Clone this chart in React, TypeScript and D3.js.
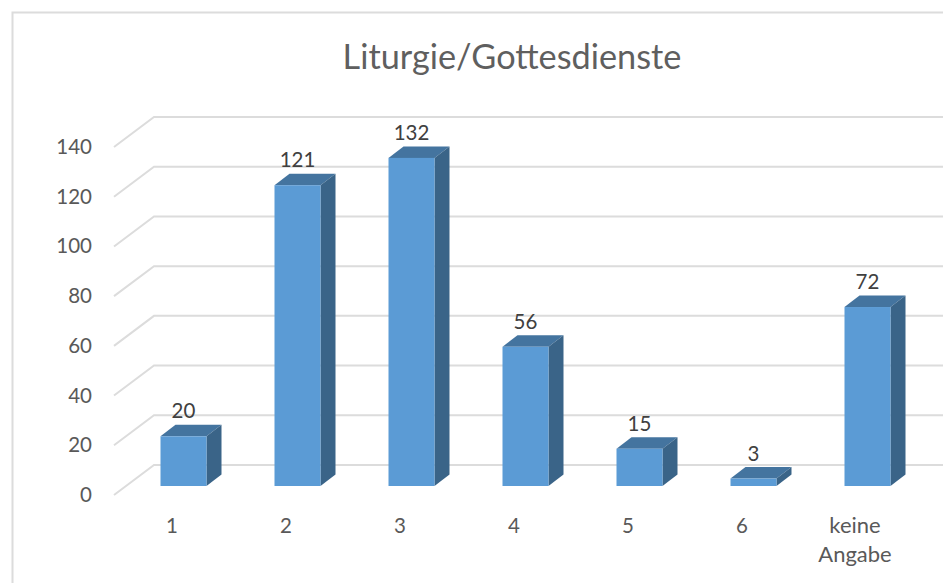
import React from "react";
import * as d3 from "d3";

const categories = ["1", "2", "3", "4", "5", "6", "keine Angabe"];
const values = [20, 121, 132, 56, 15, 3, 72];
const yTicks = [0, 20, 40, 60, 80, 100, 120, 140];
const title = "Liturgie/Gottesdienste";

const width = 943;
const height = 583;
const font = "Lato, 'Open Sans', sans-serif";
const depthX = 15;
const depthY = 11.5;
const gridColor = "#dcdcdc";

export default function App() {
  // heights measured from the floor, the bar's front face sits at y = 486
  const h = d3.scaleLinear().domain([0, 140]).range([0, 348]);
  const x = d3.scaleBand<string>()
    .domain(categories)
    .range([126.5, 924.5])
    .paddingInner(68 / 114)
    .paddingOuter(34 / 114);
  const line = d3.line();
  const floorFront = 495;
  const floorBack = 465;
  const barBase = 486;

  return (
    <svg
      width={width}
      height={height}
      style={{ position: "absolute", left: 0, top: 0, background: "#fff" }}
    >
      <path d={line([[12.5, height], [12.5, 12.5], [width, 12.5]]) ?? ""} fill="none" stroke={gridColor} strokeWidth={2} />
      <text x={512} y={69} textAnchor="middle" fontFamily={font} fontSize={34.3} fill="#5f5f5f">
        {title}
      </text>

      {yTicks.map((t) => (
        <g key={t}>
          <path
            d={line([[114, floorFront - h(t)], [154, floorBack - h(t)], [width, floorBack - h(t)]]) ?? ""}
            fill="none"
            stroke={gridColor}
            strokeWidth={2}
          />
          <text x={92} y={floorFront - h(t) + 7} textAnchor="end" fontFamily={font} fontSize={20.5} fill="#595959">
            {t}
          </text>
        </g>
      ))}

      {categories.map((c, i) => {
        const x0 = x(c) ?? 0;
        const x1 = x0 + x.bandwidth();
        const top = barBase - h(values[i]);
        const mid = x0 + x.bandwidth() / 2;
        return (
          <g key={c}>
            <path
              d={line([[x0, top], [x0 + depthX, top - depthY], [x1 + depthX, top - depthY], [x1, top]]) + "Z"}
              fill="#44749f"
            />
            <path
              d={line([[x1, top], [x1 + depthX, top - depthY], [x1 + depthX, barBase - depthY], [x1, barBase]]) + "Z"}
              fill="#3a6488"
            />
            <rect x={x0} y={top} width={x.bandwidth()} height={barBase - top} fill="#5b9bd5" />
            <text x={mid} y={top - 18} textAnchor="middle" fontFamily={font} fontSize={20.5} fill="#404040">
              {values[i]}
            </text>
            {c === "keine Angabe" ? (
              <text textAnchor="middle" fontFamily={font} fontSize={22} fill="#595959">
                {c.split(" ").map((w, j) => (
                  <tspan key={w} x={mid - 12.5} y={533 + j * 29}>
                    {w}
                  </tspan>
                ))}
              </text>
            ) : (
              <text x={mid - 11.5} y={533} textAnchor="middle" fontFamily={font} fontSize={20.5} fill="#595959">
                {c}
              </text>
            )}
          </g>
        );
      })}
    </svg>
  );
}
